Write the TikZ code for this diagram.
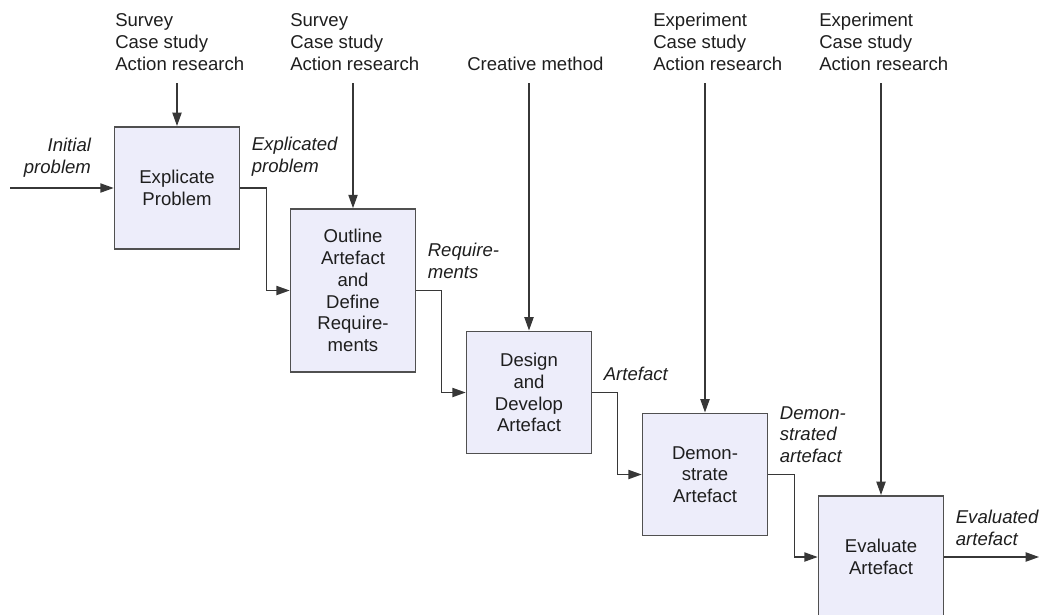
\documentclass[tikz,border=0pt]{standalone}
\usepackage{fontspec}
\setmainfont{Liberation Sans}
\usepackage{xcolor}
\usepackage{tikz}
\usetikzlibrary{arrows.meta, positioning}
\definecolor{boxfill}{RGB}{237,237,250}
\definecolor{boxline}{RGB}{80,80,80}
\definecolor{wire}{RGB}{55,55,55}
\definecolor{ink}{RGB}{30,30,30}
\newcommand{\dsrfont}{\fontsize{13.2}{15.5}\selectfont}
\tikzset{
	box/.style={rectangle, draw=boxline, fill=boxfill, line width=1.1pt,
		minimum width=3.125cm, minimum height=3.06cm, align=center,
		font=\dsrfont, text=ink, inner sep=2pt},
	method/.style={anchor=south west, align=left, inner sep=0pt,
		font=\dsrfont, text=ink},
	arr/.style={-{Triangle[length=9.5pt, width=6.5pt]}, line width=1.1pt, draw=wire},
	outlbl/.style={anchor=south west, align=left, inner sep=0pt, xshift=0.27cm,
		yshift=0.27cm, font=\dsrfont\itshape, text=ink},
	inlbl/.style={anchor=south east, align=right, inner sep=0pt, xshift=-0.55cm,
		yshift=0.25cm, font=\dsrfont\itshape, text=ink},
}
\begin{document}
\begin{tikzpicture}[node distance=2.55cm and 4.4cm, on grid]
	\useasboundingbox (0,0) rectangle (25.975,-15.35);
	
	\node[box] (explicate) at (4.425,-4.7) {Explicate\\Problem};
	\node[box, minimum height=4.075cm, below right=2.5625cm and 4.4cm of explicate] (outline) {Outline\\Artefact\\and\\Define\\Require-\\ments};
	\node[box, below right=of outline] (design) {Design\\and\\Develop\\Artefact};
	\node[box, below right=2.05cm and 4.4cm of design] (demonstrate) {Demon-\\strate\\Artefact};
	\node[box, below right=2.0625cm and 4.4cm of demonstrate] (evaluate) {Evaluate\\Artefact};
	
	\node[method] (m1) at (2.875,-1.7625) {Survey\\Case study\\Action research};
	\node[method] (m2) at (7.25,-1.7625) {Survey\\Case study\\Action research};
	\node[method] (m3) at (11.675,-1.7625) {Creative method};
	\node[method] (m4) at (16.325,-1.7625) {Experiment\\Case study\\Action research};
	\node[method] (m5) at (20.475,-1.7625) {Experiment\\Case study\\Action research};
	
	\coordinate (src) at (0,-2.075);
	\coordinate (in) at (0.25,-4.7);
	
	\draw[arr] (explicate.north |- src) -- (explicate.north);
	\draw[arr] (outline.north |- src) -- (outline.north);
	\draw[arr] (design.north |- src) -- (design.north);
	\draw[arr] (demonstrate.north |- src) -- (demonstrate.north);
	\draw[arr] (evaluate.north |- src) -- (evaluate.north);
	
	\draw[arr] (in) -- node[pos=1, inlbl] {Initial\\problem} (explicate.west);
	\draw[arr] (explicate.east) node[outlbl] {Explicated\\problem} -- ++(0.65,0) |- (outline.west);
	\draw[arr] (outline.east) node[outlbl] {Require-\\ments} -- ++(0.63,0) |- (design.west);
	\draw[arr] (design.east) node[outlbl] {Artefact} -- ++(0.63,0) |- (demonstrate.west);
	\draw[arr] (demonstrate.east) node[outlbl] {Demon-\\strated\\artefact} -- ++(0.65,0) |- (evaluate.west);
	\draw[arr] (evaluate.east) node[outlbl] {Evaluated\\artefact} -- ++(2.37,0);
	
\end{tikzpicture}
\end{document}
